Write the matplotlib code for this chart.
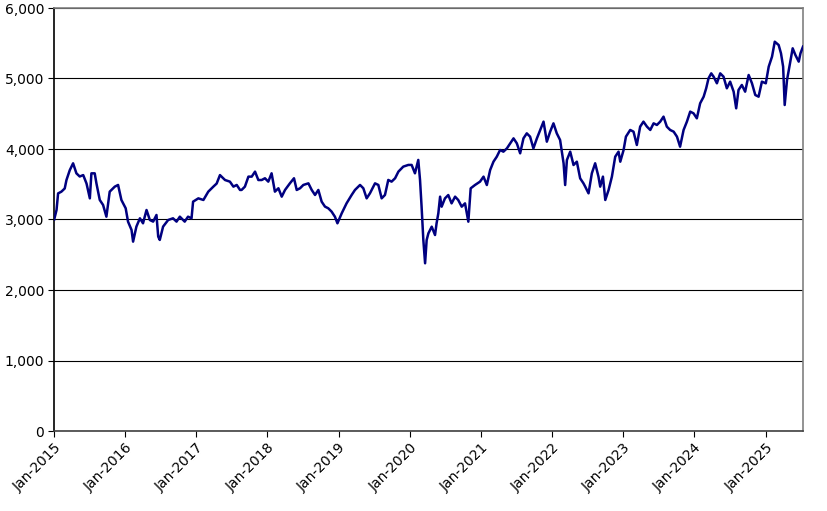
import matplotlib
matplotlib.use("Agg")
import matplotlib.pyplot as plt
import matplotlib.dates as mdates
import pandas as pd
from matplotlib.ticker import FuncFormatter

# values (approximate)
dates = [
    "2015-01-02", "2015-01-14", "2015-01-22", "2015-02-08", "2015-02-25", "2015-03-06",
    "2015-03-23", "2015-04-09", "2015-04-26", "2015-05-13", "2015-05-31", "2015-06-17",
    "2015-07-04", "2015-07-12", "2015-07-29", "2015-08-07", "2015-08-24", "2015-09-10",
    "2015-09-27", "2015-10-14", "2015-11-09", "2015-11-26", "2015-12-13", "2016-01-04",
    "2016-01-16", "2016-02-03", "2016-02-11", "2016-02-28", "2016-03-17", "2016-04-02",
    "2016-04-20", "2016-05-07", "2016-05-24", "2016-06-10", "2016-06-19", "2016-06-27",
    "2016-07-14", "2016-08-09", "2016-09-03", "2016-09-21", "2016-10-08", "2016-11-02",
    "2016-11-19", "2016-12-07", "2016-12-15", "2017-01-11", "2017-02-06", "2017-03-03",
    "2017-03-29", "2017-04-15", "2017-05-02", "2017-05-28", "2017-06-22", "2017-07-10",
    "2017-07-27", "2017-08-13", "2017-08-21", "2017-09-07", "2017-09-25", "2017-10-12",
    "2017-10-29", "2017-11-15", "2017-12-02", "2017-12-19", "2018-01-05", "2018-01-22",
    "2018-02-08", "2018-02-26", "2018-03-15", "2018-04-01", "2018-04-26", "2018-05-17",
    "2018-05-31", "2018-06-17", "2018-07-04", "2018-07-30", "2018-08-16", "2018-09-02",
    "2018-09-19", "2018-10-06", "2018-10-23", "2018-11-09", "2018-11-26", "2018-12-13",
    "2018-12-26", "2019-01-17", "2019-02-11", "2019-03-09", "2019-03-26", "2019-04-21",
    "2019-05-08", "2019-05-25", "2019-06-11", "2019-07-07", "2019-07-24", "2019-08-10",
    "2019-08-27", "2019-09-13", "2019-09-30", "2019-10-18", "2019-11-04", "2019-11-29",
    "2019-12-25", "2020-01-11", "2020-01-28", "2020-02-14", "2020-02-23", "2020-03-02",
    "2020-03-11", "2020-03-20", "2020-03-28", "2020-04-06", "2020-04-23", "2020-05-10",
    "2020-05-18", "2020-05-27", "2020-06-05", "2020-06-13", "2020-06-30", "2020-07-17",
    "2020-08-03", "2020-08-21", "2020-09-06", "2020-09-24", "2020-10-11", "2020-10-28",
    "2020-11-09", "2020-12-01", "2020-12-27", "2021-01-14", "2021-01-31", "2021-02-17",
    "2021-03-06", "2021-03-23", "2021-04-09", "2021-04-26", "2021-05-14", "2021-05-31",
    "2021-06-17", "2021-07-04", "2021-07-21", "2021-08-07", "2021-08-24", "2021-09-10",
    "2021-09-27", "2021-10-15", "2021-11-01", "2021-11-18", "2021-12-05", "2021-12-22",
    "2022-01-08", "2022-01-25", "2022-02-11", "2022-03-01", "2022-03-09", "2022-03-18",
    "2022-04-04", "2022-04-21", "2022-05-08", "2022-05-25", "2022-06-11", "2022-06-20",
    "2022-07-07", "2022-07-24", "2022-08-10", "2022-08-27", "2022-09-05", "2022-09-19",
    "2022-10-01", "2022-10-18", "2022-11-04", "2022-11-21", "2022-12-08", "2022-12-17",
    "2023-01-03", "2023-01-15", "2023-02-06", "2023-02-23", "2023-03-12", "2023-03-29",
    "2023-04-15", "2023-05-03", "2023-05-20", "2023-06-06", "2023-06-23", "2023-07-10",
    "2023-07-27", "2023-08-13", "2023-08-30", "2023-09-17", "2023-10-04", "2023-10-20",
    "2023-11-07", "2023-11-24", "2023-12-11", "2023-12-28", "2024-01-14", "2024-01-31",
    "2024-02-18", "2024-03-02", "2024-03-14", "2024-03-28", "2024-04-09", "2024-04-26",
    "2024-05-13", "2024-05-30", "2024-06-16", "2024-07-03", "2024-07-21", "2024-08-03",
    "2024-08-15", "2024-09-01", "2024-09-18", "2024-10-06", "2024-10-23", "2024-11-09",
    "2024-11-26", "2024-12-13", "2025-01-02", "2025-01-17", "2025-02-03", "2025-02-17",
    "2025-03-09", "2025-03-21", "2025-04-01", "2025-04-09", "2025-04-21", "2025-05-08",
    "2025-05-20", "2025-06-03", "2025-06-20", "2025-06-29", "2025-07-12",
]
values = [
    3000, 3135, 3370, 3395, 3440, 3560,
    3700, 3797, 3655, 3610, 3630, 3510,
    3300, 3655, 3655, 3510, 3277, 3206,
    3040, 3395, 3466, 3490, 3277, 3159,
    2970, 2852, 2686, 2899, 3017, 2946,
    3135, 2993, 2970, 3064, 2757, 2710,
    2899, 2993, 3017, 2970, 3040, 2970,
    3040, 3017, 3253, 3300, 3277, 3395,
    3466, 3510, 3630, 3560, 3537, 3466,
    3490, 3419, 3419, 3466, 3608, 3608,
    3679, 3560, 3560, 3585, 3537, 3655,
    3395, 3443, 3324, 3419, 3513, 3585,
    3419, 3443, 3490, 3513, 3419, 3348,
    3419, 3253, 3183, 3159, 3112, 3040,
    2946, 3088, 3230, 3348, 3419, 3490,
    3443, 3300, 3372, 3513, 3490, 3300,
    3348, 3561, 3537, 3585, 3679, 3750,
    3774, 3774, 3655, 3845, 3561, 3183,
    2710, 2379, 2709, 2804, 2898, 2780,
    2946, 3088, 3324, 3182, 3300, 3347,
    3229, 3324, 3277, 3182, 3229, 2969,
    3442, 3489, 3537, 3608, 3489, 3702,
    3820, 3891, 3986, 3962, 4009, 4080,
    4151, 4080, 3939, 4151, 4222, 4175,
    4009, 4151, 4270, 4388, 4104, 4246,
    4364, 4222, 4128, 3797, 3489, 3844,
    3962, 3773, 3820, 3584, 3513, 3466,
    3371, 3655, 3797, 3608, 3466, 3608,
    3277, 3419, 3608, 3891, 3962, 3820,
    3986, 4175, 4270, 4246, 4057, 4317,
    4388, 4317, 4270, 4364, 4341, 4388,
    4459, 4317, 4270, 4246, 4175, 4033,
    4270, 4388, 4530, 4506, 4435, 4648,
    4742, 4861, 5002, 5073, 5026, 4932,
    5073, 5026, 4861, 4955, 4813, 4577,
    4837, 4908, 4813, 5050, 4932, 4766,
    4742, 4955, 4932, 5168, 5310, 5522,
    5475, 5357, 5168, 4624, 4979, 5239,
    5428, 5333, 5239, 5357, 5452,
]
tick_years = list(range(2015, 2026))

dt = pd.to_datetime(dates)

fig = plt.figure(figsize=(8.27, 5.11), dpi=100)
ax = fig.add_axes([54 / 827, 1 - 431 / 511, (803 - 54) / 827, (431 - 8) / 511])

ax.plot(dt, values, color="#000080", linewidth=1.8, solid_joinstyle="round", zorder=3)

ax.set_ylim(0, 6000)
ax.set_yticks(range(0, 6001, 1000))
ax.yaxis.set_major_formatter(FuncFormatter(lambda v, p: f"{int(v):,}"))
ax.grid(True, axis="y", color="black", linewidth=0.8)
ax.set_axisbelow(True)

ax.set_xlim(pd.Timestamp("2015-01-01"), dt[-1])
ax.set_xticks([pd.Timestamp(f"{y}-01-01") for y in tick_years])
ax.xaxis.set_major_formatter(mdates.DateFormatter("%b-%Y"))
plt.setp(ax.get_xticklabels(), rotation=45, ha="right", rotation_mode="anchor")

ax.tick_params(axis="both", direction="out", length=4, width=0.8, color="black",
               labelsize=10, pad=3)

ax.spines["left"].set_color("black")
ax.spines["bottom"].set_color("#404040")
ax.spines["top"].set_color("#808080")
ax.spines["right"].set_color("#808080")
for s in ax.spines.values():
    s.set_linewidth(1.2)

fig.savefig("out.png", dpi=100)
